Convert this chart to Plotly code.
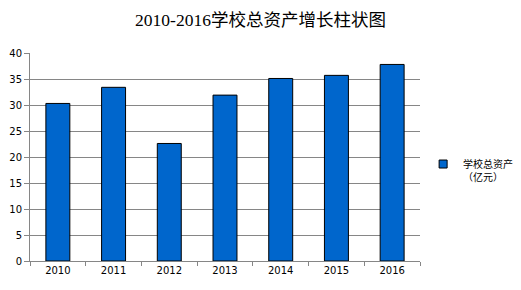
import plotly.graph_objects as go

years = ["2010", "2011", "2012", "2013", "2014", "2015", "2016"]
assets = [30.3, 33.4, 22.6, 31.9, 35.1, 35.7, 37.8]
series_name = "学校总资产<br>（亿元）"
title_text = "2010-2016学校总资产增长柱状图"

fig = go.Figure()
fig.add_trace(go.Bar(
    x=years, y=assets, name=series_name,
    marker=dict(color="#0066CC", line=dict(color="#000000", width=1)),
    showlegend=False,
))
# legend entry drawn as a small square marker
fig.add_trace(go.Scatter(
    x=[None], y=[None], mode="markers", name=series_name,
    marker=dict(symbol="square", size=8, color="#0066CC",
                line=dict(color="#000000", width=1)),
    showlegend=True,
))

fig.update_layout(
    width=521, height=290,
    margin=dict(l=30, r=101, t=53, b=29, autoexpand=False),
    paper_bgcolor="white", plot_bgcolor="white",
    bargap=0.57,
    title=dict(text=title_text, x=0.5, xref="container", xanchor="center",
               y=1 - 20 / 290, yref="container", yanchor="middle",
               font=dict(family="Liberation Serif, Noto Sans CJK SC", size=17.5, color="#000")),
    legend=dict(x=1.008, xanchor="left", y=0.435, yanchor="middle",
                valign="top",
                font=dict(family="Noto Sans CJK SC", size=10, color="#000"),
                itemwidth=30, tracegroupgap=0),
    font=dict(family="DejaVu Sans", size=10, color="#000"),
)
fig.update_xaxes(
    type="category", tickson="boundaries", ticks="outside", ticklen=4,
    tickcolor="#868686", linecolor="#868686", linewidth=1, showline=True,
    showgrid=False, tickfont=dict(family="DejaVu Sans", size=10, color="#000"),
    mirror=False,
)
fig.update_yaxes(
    range=[0, 40], dtick=5, ticks="outside", ticklen=5, tickcolor="#868686",
    showline=True, linecolor="#868686", linewidth=1,
    showgrid=True, gridcolor="#868686", gridwidth=1, zeroline=False,
    tickfont=dict(family="DejaVu Sans", size=10, color="#000"),
)
fig.write_html("out.html")
